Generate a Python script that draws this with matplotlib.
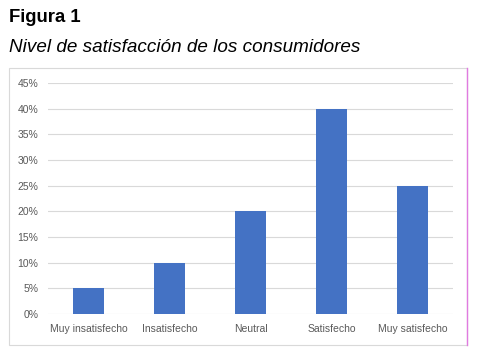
import matplotlib
matplotlib.use('Agg')
import matplotlib.pyplot as plt
from matplotlib.patches import Rectangle
from matplotlib.lines import Line2D
from matplotlib.ticker import PercentFormatter

categories = ['Muy insatisfecho', 'Insatisfecho', 'Neutral', 'Satisfecho', 'Muy satisfecho']
values = [0.05, 0.10, 0.20, 0.40, 0.25]
yticks = [0, 0.05, 0.10, 0.15, 0.20, 0.25, 0.30, 0.35, 0.40, 0.45]

plt.rcParams['font.family'] = ['Liberation Sans', 'DejaVu Sans']

fig = plt.figure(figsize=(4.8, 3.53), dpi=100)

# outer chart box
W, H = 480, 353
box = Rectangle((9 / W, 1 - 345 / H), (467 - 9) / W, (345 - 68) / H,
                transform=fig.transFigure, fill=False, edgecolor='#d9d9d9', lw=0.8)
fig.patches.append(box)
fig.lines.append(Line2D([467 / W, 467 / W], [1 - 345 / H, 1 - 68 / H],
                        transform=fig.transFigure, color='#e07be0', lw=1.0))

fig.text(9 / W, 1 - 18 / H, 'Figura 1', fontsize=13.3, fontweight='bold', va='center', ha='left')
fig.text(9 / W, 1 - 47 / H, 'Nivel de satisfacción de los consumidores', fontsize=13.6,
         style='italic', va='center', ha='left')

ax = fig.add_axes([48 / W, 1 - 314 / H, (453 - 48) / W, (314 - 83) / H])
x = range(len(categories))
ax.bar(x, values, width=0.38, color='#4472c4', zorder=3)
ax.set_xlim(-0.5, len(categories) - 0.5)
ax.set_ylim(0, 0.45)
ax.set_yticks(yticks)
ax.yaxis.set_major_formatter(PercentFormatter(1.0, decimals=0))
ax.set_xticks(list(x))
ax.set_xticklabels(categories)
ax.grid(axis='y', color='#d9d9d9', lw=0.8, zorder=0)
for s in ax.spines.values():
    s.set_visible(False)
ax.tick_params(axis='both', length=0, labelsize=7.5, colors='#595959')
ax.tick_params(axis='y', pad=7)
ax.tick_params(axis='x', pad=7)

fig.savefig('out.png', dpi=100)
